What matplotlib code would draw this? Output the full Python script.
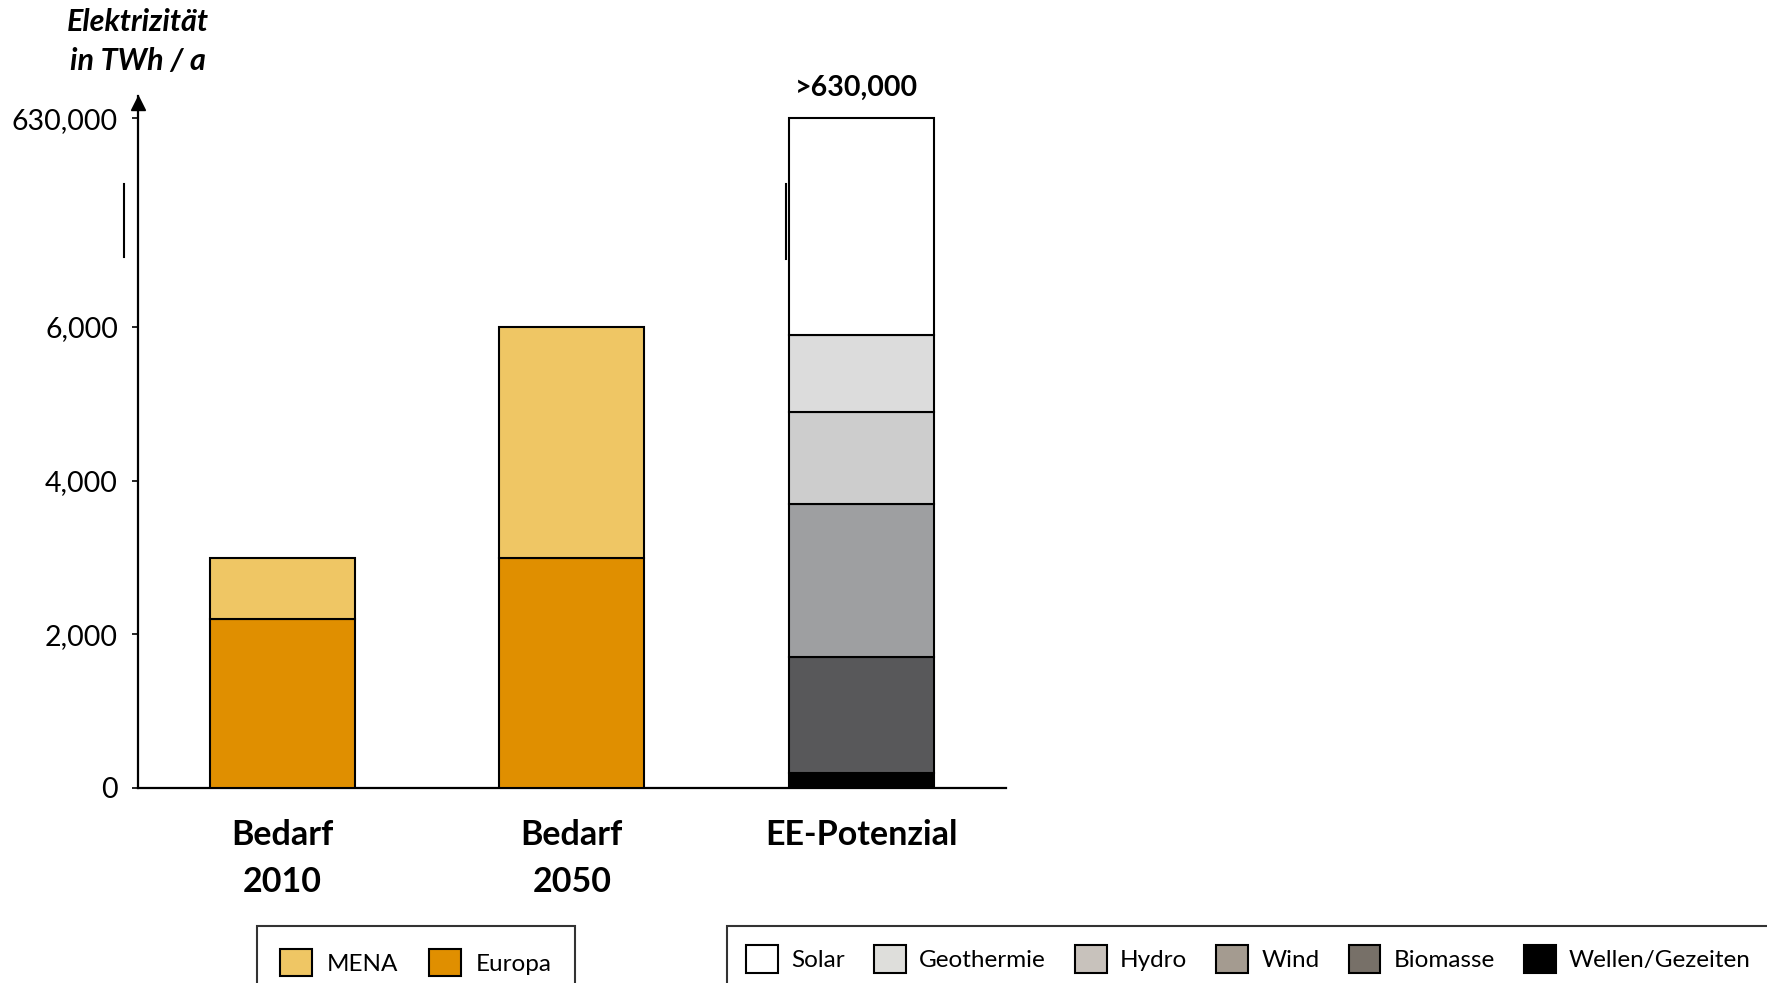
import numpy as np
import matplotlib
matplotlib.use("Agg")
import matplotlib.pyplot as plt
from matplotlib.patches import Patch

plt.rcParams["font.family"] = ["Lato", "DejaVu Sans"]

# data
categories = ["Bedarf\n2010", "Bedarf\n2050", "EE-Potenzial"]
europa = [2200, 3000]
mena = [800, 3000]

ee_names = ["Wellen/Gezeiten", "Biomasse", "Wind", "Hydro", "Geothermie", "Solar"]
ee_values = [200, 1500, 2000, 1200, 1000, 624100]

ytick_values = [0, 2000, 4000, 6000, 630000]
ytick_labels = ["0", "2,000", "4,000", "6,000", "630,000"]
top_label = ">630,000"

# colours
c_mena = "#efc664"
c_europa = "#e08f00"
ee_bar_colors = ["#000000", "#58585a", "#9e9fa1", "#cdcdcd", "#dcdcdc", "#ffffff"]
ee_legend_colors = ["#000000", "#777068", "#a49b90", "#c8c2bc", "#dededb", "#ffffff"]

# broken axis: linear up to 6000, squeezed above
brk = 6000
squeeze = 2720 / 624000


def forward(v):
    v = np.asarray(v, dtype=float)
    return np.where(v <= brk, v, brk + (v - brk) * squeeze)


def inverse(u):
    u = np.asarray(u, dtype=float)
    return np.where(u <= brk, u, brk + (u - brk) / squeeze)


fig = plt.figure(figsize=(17.67, 9.83), dpi=100)
ax = fig.add_axes([137.5 / 1767, 1 - 788 / 983, 868.5 / 1767, 692 / 983])
ax.set_yscale("function", functions=(forward, inverse))

x = np.arange(len(categories))
w = 0.5
lw = 1.5

# Bedarf bars
ax.bar(x[:2], europa, w, color=c_europa, edgecolor="black", linewidth=lw, zorder=3)
ax.bar(x[:2], mena, w, bottom=europa, color=c_mena, edgecolor="black", linewidth=lw, zorder=3)

# EE-Potenzial bar
bottom = 0
for val, col in zip(ee_values, ee_bar_colors):
    ax.bar(x[2], val, w, bottom=bottom, color=col, edgecolor="black", linewidth=lw, zorder=3)
    bottom += val

# label above the EE bar, lifted a bit above the bar top
ax.text(x[2] - 0.015, float(inverse(forward(bottom) + 220)), top_label, ha="center",
        va="bottom", fontsize=20.5, fontweight="bold")

ax.set_xlim(-0.5, 2.5)
ax.set_ylim(0, float(inverse(9007)))

ax.set_yticks(ytick_values)
ax.set_yticklabels(ytick_labels, fontsize=20.5)
ax.yaxis.set_minor_locator(matplotlib.ticker.NullLocator())
ax.tick_params(axis="y", direction="out", length=4, width=1.2, pad=10)

ax.set_xticks(x)
ax.set_xticklabels(categories, fontsize=24.5, fontweight="bold", linespacing=1.6)
ax.tick_params(axis="x", length=0, pad=22)

for s in ["top", "right"]:
    ax.spines[s].set_visible(False)
ax.spines["left"].set_linewidth(1.6)
ax.spines["bottom"].set_linewidth(1.6)

# arrow head on the y axis
ax.plot([0], [0.99], marker="^", color="black", markersize=10,
        transform=ax.transAxes, clip_on=False)

# break marks
ax.plot([-0.0155, -0.0155], [0.767, 0.873], color="black", lw=1.5,
        transform=ax.transAxes, clip_on=False)
ax.plot([0.7467, 0.7467], [0.765, 0.873], color="black", lw=1.5,
        transform=ax.transAxes, clip_on=False)

# axis title
fig.text(138 / 1767, 1 - 22 / 983, "Elektrizität", ha="center", va="center",
         fontsize=22, fontweight="bold", fontstyle="italic")
fig.text(138 / 1767, 1 - 61 / 983, "in TWh / a", ha="center", va="center",
         fontsize=22, fontweight="bold", fontstyle="italic")

# legends
h1 = [Patch(facecolor=c_mena, edgecolor="black", linewidth=1.5, label="MENA"),
      Patch(facecolor=c_europa, edgecolor="black", linewidth=1.5, label="Europa")]
leg1 = fig.legend(handles=h1, loc="upper left", bbox_to_anchor=(257 / 1767, 1 - 926 / 983),
                  ncol=2, fontsize=17.5, frameon=True, fancybox=False, edgecolor="black",
                  handlelength=1.3, handleheight=1.35, handletextpad=0.6,
                  columnspacing=1.3, borderpad=0.95, borderaxespad=0)
leg1.get_frame().set_linewidth(1.5)

order = ["Solar", "Geothermie", "Hydro", "Wind", "Biomasse", "Wellen/Gezeiten"]
h2 = []
for name in order:
    i = ee_names.index(name)
    h2.append(Patch(facecolor=ee_legend_colors[i], edgecolor="black", linewidth=1.5, label=name))
leg2 = fig.legend(handles=h2, loc="upper left", bbox_to_anchor=(727 / 1767, 1 - 926 / 983),
                  ncol=6, fontsize=17.5, frameon=True, fancybox=False, edgecolor="black",
                  handlelength=1.3, handleheight=1.35, handletextpad=0.55,
                  columnspacing=1.2, borderpad=0.8, borderaxespad=0)
leg2.get_frame().set_linewidth(1.5)

fig.savefig("out.png", dpi=100)
